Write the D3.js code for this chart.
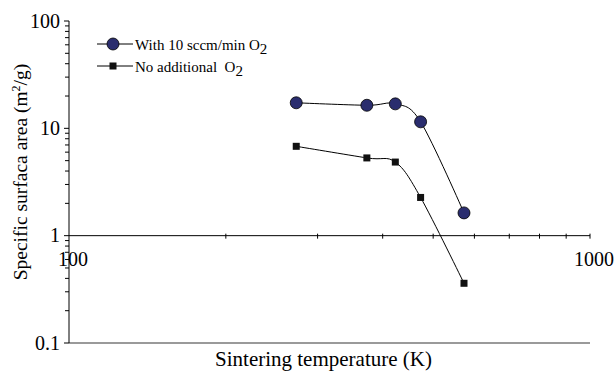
<!DOCTYPE html>
<html>
<head>
<meta charset="utf-8">
<script src="https://cdn.jsdelivr.net/npm/d3@7"></script>
<style>
  body { margin: 0; background: #fff; }
  svg text { font-family: "Liberation Serif", "DejaVu Serif", serif; }
</style>
</head>
<body>
<svg id="chart" width="616" height="372"></svg>
<script>
const temperatures = [273, 373, 423, 473, 573];
const withO2 = [17.3, 16.4, 16.9, 11.5, 1.63];
const noO2 = [6.8, 5.3, 4.85, 2.27, 0.36];
const xTicks = [100, 1000];
const yTicks = [0.1, 1, 10, 100];

const width = 616;
const height = 372;
const marginLeft = 69;
const marginRight = 26;
const marginTop = 21;
const marginBottom = 29;
const serif = "Liberation Serif";

const svg = d3.select("#chart");

const x = d3.scaleLog().domain([100, 1000]).range([marginLeft, width - marginRight]);
const y = d3.scaleLog().domain([0.1, 100]).range([height - marginBottom, marginTop]);

// gray bottom border of the plot area
svg.append("line")
  .attr("x1", x(100)).attr("x2", x(1000))
  .attr("y1", y(0.1)).attr("y2", y(0.1))
  .attr("stroke", "#9a9a9a")
  .attr("stroke-width", 2);

// y axis with minor ticks pointing left
const yMinor = d3.range(-1, 2).flatMap((e) => d3.range(2, 10).map((m) => m * 10 ** e));
const yAxisG = svg.append("g").attr("transform", `translate(${marginLeft},0)`);
yAxisG.append("line")
  .attr("y1", y(100)).attr("y2", y(0.1))
  .attr("stroke", "#000");
yAxisG.selectAll(".minor")
  .data(yMinor)
  .join("line")
  .attr("x1", -4).attr("x2", 0)
  .attr("y1", (d) => y(d)).attr("y2", (d) => y(d))
  .attr("stroke", "#000");
yAxisG.selectAll(".major")
  .data(yTicks)
  .join("line")
  .attr("x1", -5).attr("x2", 0)
  .attr("y1", (d) => y(d)).attr("y2", (d) => y(d))
  .attr("stroke", "#000");
yAxisG.selectAll("text")
  .data(yTicks)
  .join("text")
  .attr("x", -9)
  .attr("y", (d) => y(d))
  .attr("dy", "0.34em")
  .attr("text-anchor", "end")
  .attr("font-family", serif)
  .attr("font-size", 20)
  .text((d) => d);

// x axis crossing at y = 1
const xMinor = d3.range(2, 10).map((m) => m * 100);
const xAxisG = svg.append("g").attr("transform", `translate(0,${y(1)})`);
xAxisG.append("line")
  .attr("x1", x(100)).attr("x2", x(1000))
  .attr("stroke", "#000");
xAxisG.selectAll(".minor")
  .data(xMinor.concat([1000]))
  .join("line")
  .attr("x1", (d) => x(d)).attr("x2", (d) => x(d))
  .attr("y1", -2).attr("y2", 3)
  .attr("stroke", "#000");
xAxisG.selectAll("text")
  .data(xTicks)
  .join("text")
  .attr("x", (d) => x(d) + 4)
  .attr("y", 30)
  .attr("text-anchor", "middle")
  .attr("font-family", serif)
  .attr("font-size", 20)
  .text((d) => d);

// series
const line = d3.line()
  .x((d) => x(d[0]))
  .y((d) => y(d[1]))
  .curve(d3.curveCatmullRom.alpha(0));

const withData = d3.zip(temperatures, withO2);
const noData = d3.zip(temperatures, noO2);

svg.append("path")
  .attr("d", line(withData))
  .attr("fill", "none")
  .attr("stroke", "#000")
  .attr("stroke-width", 1);
svg.append("path")
  .attr("d", line(noData))
  .attr("fill", "none")
  .attr("stroke", "#000")
  .attr("stroke-width", 1);

svg.append("g")
  .selectAll("circle")
  .data(withData)
  .join("circle")
  .attr("cx", (d) => x(d[0]))
  .attr("cy", (d) => y(d[1]))
  .attr("r", 6)
  .attr("fill", "#2a2d6e")
  .attr("stroke", "#000")
  .attr("stroke-width", 0.8);

svg.append("g")
  .selectAll("rect")
  .data(noData)
  .join("rect")
  .attr("x", (d) => x(d[0]) - 3.5)
  .attr("y", (d) => y(d[1]) - 3.5)
  .attr("width", 7)
  .attr("height", 7)
  .attr("fill", "#111");

// legend
const legend = svg.append("g");
const rows = [
  { label: "With 10 sccm/min O", shape: "circle", yy: 44 },
  { label: "No additional\u00a0 O", shape: "square", yy: 66 },
];
rows.forEach((r) => {
  const g = legend.append("g").attr("transform", `translate(0,${r.yy})`);
  g.append("line").attr("x1", 97).attr("x2", 133).attr("stroke", "#000");
  if (r.shape === "circle") {
    g.append("circle").attr("cx", 113).attr("r", 6)
      .attr("fill", "#2a2d6e").attr("stroke", "#000").attr("stroke-width", 0.8);
  } else {
    g.append("rect").attr("x", 109.5).attr("y", -3.5).attr("width", 7).attr("height", 7)
      .attr("fill", "#111");
  }
  const t = g.append("text")
    .attr("x", 135)
    .attr("y", 6)
    .attr("font-family", serif)
    .attr("font-size", 15);
  t.append("tspan").text(r.label);
  t.append("tspan").attr("dy", 4).text("2");
});

// axis titles
svg.append("text")
  .attr("x", (x(100) + x(1000)) / 2 - 6)
  .attr("y", 366)
  .attr("text-anchor", "middle")
  .attr("font-family", serif)
  .attr("font-size", 21)
  .text("Sintering temperature (K)");

const yTitle = svg.append("text")
  .attr("transform", `translate(27,${172}) rotate(-90)`)
  .attr("text-anchor", "middle")
  .attr("font-family", serif)
  .attr("font-size", 19.5);
yTitle.append("tspan").text("Specific surfaca area (m");
yTitle.append("tspan").attr("dy", -7).attr("font-size", 12).text("2");
yTitle.append("tspan").attr("dy", 7).text("/g)");
</script>
</body>
</html>
